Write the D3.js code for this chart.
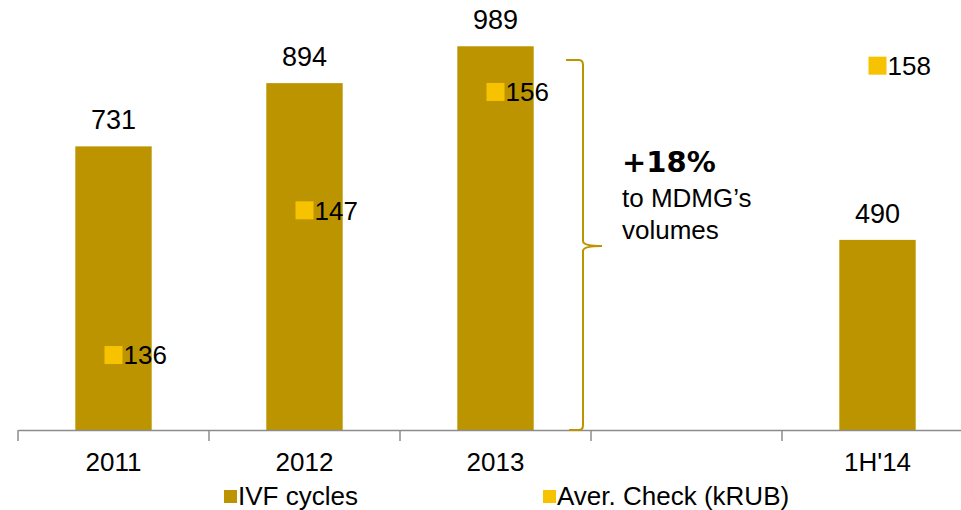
<!DOCTYPE html>
<html>
<head>
<meta charset="utf-8">
<script src="https://cdn.jsdelivr.net/npm/d3@7"></script>
<style>
  body { margin: 0; background: #fff; }
  text { font-family: "Liberation Sans", Arial, sans-serif; fill: #000; }
</style>
</head>
<body>
<svg width="961" height="510"></svg>
<script>
// chart data
var categories = ["2011", "2012", "2013", "", "1H'14"];
var ivfCycles = [731, 894, 989, null, 490];
var averCheck = [136, 147, 156, null, 158];
var seriesNames = ["IVF cycles", "Aver. Check (kRUB)"];

var barColor = "#BC9400",
    markColor = "#F7C200",
    axisColor = "#8c8c8c";

var svg = d3.select("svg");

var x = d3.scaleBand().domain(categories).range([18, 973]).padding(0),
    y = d3.scaleLinear().domain([0, 1000]).range([430, 42]),
    y2 = d3.scaleLinear().domain([130.3, 159.8]).range([430, 42]);

var barW = x.bandwidth() * 0.4;

var rows = categories.map(function(c, i) {
    return { cat: c, ivf: ivfCycles[i], check: averCheck[i] };
});

// bars
svg.selectAll(".bar")
   .data(rows.filter(function(d) { return d.ivf != null; }))
   .enter().append("rect")
   .attr("class", "bar")
   .attr("x", function(d) { return x(d.cat) + (x.bandwidth() - barW) / 2; })
   .attr("y", function(d) { return y(d.ivf); })
   .attr("width", barW)
   .attr("height", function(d) { return y(0) - y(d.ivf); })
   .attr("fill", barColor);

svg.selectAll(".barlabel")
   .data(rows.filter(function(d) { return d.ivf != null; }))
   .enter().append("text")
   .attr("x", function(d) { return x(d.cat) + x.bandwidth() / 2; })
   .attr("y", function(d) { return y(d.ivf) - 17; })
   .attr("text-anchor", "middle")
   .attr("font-size", "27px")
   .text(function(d) { return d.ivf; });

// x axis
var axis = svg.append("g")
   .attr("transform", "translate(0,430)")
   .call(d3.axisBottom(x).tickSize(0).tickPadding(23));
axis.select(".domain").attr("stroke", axisColor).attr("stroke-width", 1.5);
axis.selectAll("text").attr("font-size", "26px").attr("font-family", "Liberation Sans, Arial, sans-serif").attr("fill", "#000");

var bounds = categories.map(function(c) { return x(c); }).concat([x(categories[categories.length - 1]) + x.step()]);
svg.selectAll(".tickmark")
   .data(bounds)
   .enter().append("line")
   .attr("x1", function(d) { return d; })
   .attr("x2", function(d) { return d; })
   .attr("y1", 430)
   .attr("y2", 441)
   .attr("stroke", axisColor)
   .attr("stroke-width", 1.5);

// avg check markers
var pts = rows.filter(function(d) { return d.check != null; });
svg.selectAll(".mark")
   .data(pts)
   .enter().append("rect")
   .attr("x", function(d) { return x(d.cat) + x.bandwidth() / 2 - 9; })
   .attr("y", function(d) { return y2(d.check) - 9; })
   .attr("width", 18)
   .attr("height", 18)
   .attr("fill", markColor);

svg.selectAll(".marklabel")
   .data(pts)
   .enter().append("text")
   .attr("x", function(d) { return x(d.cat) + x.bandwidth() / 2 + 10; })
   .attr("y", function(d) { return y2(d.check); })
   .attr("dy", "0.36em")
   .attr("font-size", "26px")
   .text(function(d) { return d.check; });

// brace
var bx = 583, bTop = 60, bBot = 430, bMid = 246;
svg.append("path")
   .attr("d", "M566," + bTop + " L" + (bx - 4) + "," + bTop + " Q" + bx + "," + bTop + " " + bx + "," + (bTop + 5) +
              " L" + bx + "," + (bMid - 5) + " Q" + bx + "," + bMid + " " + (bx + 19) + "," + bMid +
              " Q" + bx + "," + bMid + " " + bx + "," + (bMid + 5) +
              " L" + bx + "," + (bBot - 5) + " Q" + bx + "," + bBot + " " + (bx - 4) + "," + bBot + " L569," + bBot)
   .attr("fill", "none")
   .attr("stroke", barColor)
   .attr("stroke-width", 2);

var note = svg.append("text").attr("x", 622).attr("font-size", "26px");
note.append("tspan").attr("x", 622).attr("y", 172).attr("font-weight", "bold")
    .attr("font-family", "DejaVu Sans, sans-serif").attr("font-size", "29px").text("+18%");
note.append("tspan").attr("x", 622).attr("y", 207).text("to MDMG\u2019s");
note.append("tspan").attr("x", 622).attr("y", 239).text("volumes");

// legend
var legend = svg.selectAll(".legend")
   .data(seriesNames)
   .enter().append("g")
   .attr("transform", function(d, i) { return "translate(" + [224, 543][i] + ",0)"; });
legend.append("rect")
   .attr("x", 0).attr("y", 490).attr("width", 13).attr("height", 13)
   .attr("fill", function(d, i) { return i === 0 ? barColor : markColor; });
legend.append("text")
   .attr("x", 14).attr("y", 505)
   .attr("font-size", "26px")
   .text(function(d) { return d; });
</script>
</body>
</html>
